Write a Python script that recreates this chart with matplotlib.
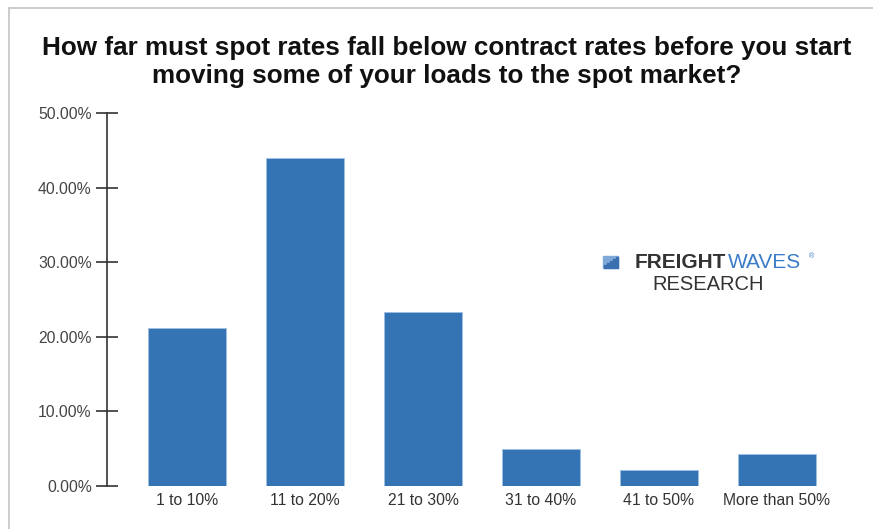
import matplotlib.pyplot as plt
from matplotlib.lines import Line2D
from matplotlib.patches import Rectangle

plt.rcParams['font.family'] = ['Liberation Sans', 'DejaVu Sans']

# Survey answers (share of respondents, %)
categories = ['1 to 10%', '11 to 20%', '21 to 30%', '31 to 40%', '41 to 50%', 'More than 50%']
shares = [21.2, 44.0, 23.3, 4.9, 2.1, 4.25]
yticks = [0, 10, 20, 30, 40, 50]
ytick_labels = ['0.00%', '10.00%', '20.00%', '30.00%', '40.00%', '50.00%']

fig = plt.figure(figsize=(8.73, 5.29), dpi=100)
ax = fig.add_axes([107 / 873, 1 - 485.7 / 529, 750 / 873, 372.4 / 529])

x = range(len(categories))
ax.bar(x, shares, width=0.66, color='#3474b5', edgecolor='#9dbfe3', linewidth=0.6)

ax.set_xlim(-0.68, len(categories) - 1 + 0.68)
ax.set_ylim(0, 50)
ax.set_yticks(yticks)
ax.set_yticklabels(ytick_labels)
ax.set_xticks(list(x))
ax.set_xticklabels(categories)

for side in ['top', 'right', 'bottom']:
    ax.spines[side].set_visible(False)
ax.spines['left'].set_color('#333333')
ax.spines['left'].set_linewidth(1.2)
ax.tick_params(axis='y', direction='inout', length=16, width=1.2, color='#333333',
               labelsize=11.3, labelcolor='#444444', pad=3)
ax.tick_params(axis='x', length=0, labelsize=11.3, labelcolor='#333333', pad=5)

# Title
fig.text(447 / 873, 1 - 48 / 529, 'How far must spot rates fall below contract rates before you start',
         ha='center', va='center', fontsize=18.8, fontweight='bold', color='#111111')
fig.text(447 / 873, 1 - 76 / 529, 'moving some of your loads to the spot market?',
         ha='center', va='center', fontsize=18.8, fontweight='bold', color='#111111')

# Logo block
fig.add_artist(Rectangle((603 / 873, 1 - 268 / 529), 15 / 873, 12 / 529,
                         transform=fig.transFigure, color='#7fa9d9'))
for i, h in enumerate([3, 5, 7, 9, 11]):
    fig.add_artist(Rectangle(((604 + i * 3) / 873, 1 - 268 / 529), 1.6 / 873, h / 529,
                             transform=fig.transFigure, color='#3a6fb0'))
fig.text(726 / 873, 1 - 263 / 529, 'FREIGHT', ha='right', va='center', fontsize=15,
         fontweight='heavy', color='#333333')
fig.text(728 / 873, 1 - 263 / 529, 'WAVES', ha='left', va='center', fontsize=15,
         color='#3a7cc7')
fig.text(809 / 873, 1 - 257 / 529, '®', ha='left', va='center', fontsize=5, color='#3a7cc7')
fig.text(708 / 873, 1 - 285 / 529, 'RESEARCH', ha='center', va='center', fontsize=14.5,
         color='#333333')

# Frame lines
fig.add_artist(Line2D([9 / 873, 1], [1 - 8 / 529, 1 - 8 / 529], transform=fig.transFigure,
                      color='#c4c4c4', linewidth=1.2))
fig.add_artist(Line2D([9 / 873, 9 / 873], [0, 1 - 8 / 529], transform=fig.transFigure,
                      color='#c4c4c4', linewidth=1.2))

plt.savefig('out.png', dpi=100)
